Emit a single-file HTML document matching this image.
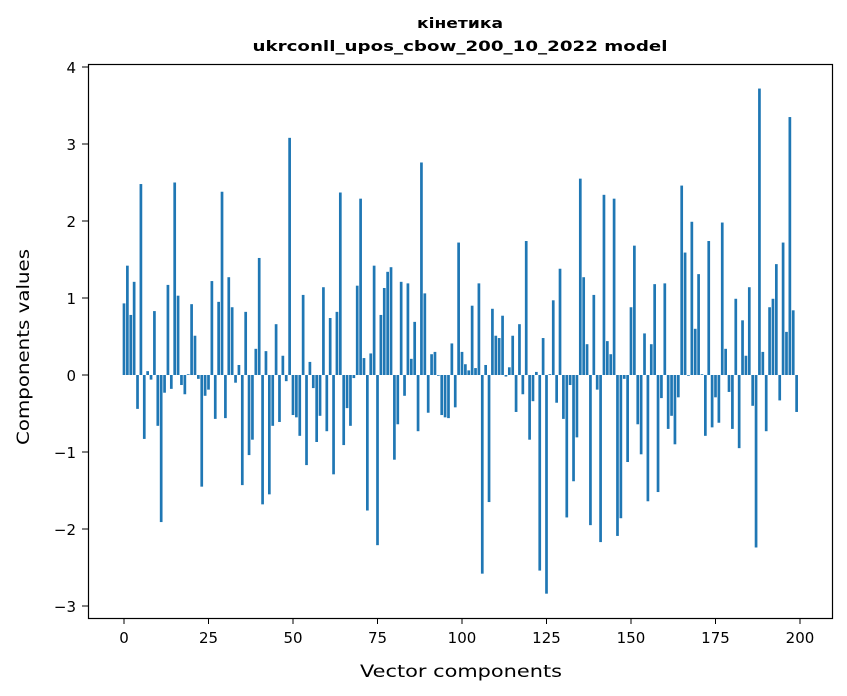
<!DOCTYPE html>
<html><head><meta charset="utf-8"><style>
html,body{margin:0;padding:0;background:#fff;}
svg{display:block;font-family:"DejaVu Sans","Liberation Sans",sans-serif;}
</style></head><body>
<svg id="chart" width="847" height="696" viewBox="0 0 847 696">
<rect width="847" height="696" fill="#fff"/>
<text x="460" y="28" text-anchor="middle" font-size="14" font-weight="bold" textLength="86" lengthAdjust="spacingAndGlyphs">кінетика</text>
<text x="460" y="51" text-anchor="middle" font-size="14" font-weight="bold" textLength="415" lengthAdjust="spacingAndGlyphs">ukrconll_upos_cbow_200_10_2022 model</text>
<g id="bars"></g>
<rect x="88.5" y="64.5" width="744" height="554" fill="none" stroke="#000" stroke-width="1.2"/>
<g id="xaxis"></g>
<g id="yaxis"></g>
<text x="461" y="677" text-anchor="middle" font-size="17" textLength="202" lengthAdjust="spacingAndGlyphs">Vector components</text>
<text transform="translate(29,347) rotate(-90)" text-anchor="middle" font-size="17" textLength="196" lengthAdjust="spacingAndGlyphs">Components values</text>
</svg>
<script>
const values = [0.93,1.42,0.78,1.21,-0.44,2.48,-0.83,0.05,-0.06,0.83,-0.66,-1.91,-0.23,1.17,-0.18,2.50,1.03,-0.13,-0.25,0.01,
0.92,0.51,-0.05,-1.45,-0.27,-0.19,1.22,-0.57,0.95,2.38,-0.56,1.27,0.88,-0.10,0.13,-1.43,0.82,-1.04,-0.84,0.34,
1.52,-1.68,0.31,-1.55,-0.66,0.66,-0.61,0.25,-0.08,3.08,-0.52,-0.55,-0.79,1.04,-1.17,0.17,-0.17,-0.87,-0.53,1.14,
-0.73,0.74,-1.29,0.82,2.37,-0.91,-0.43,-0.66,-0.04,1.16,2.29,0.22,-1.76,0.28,1.42,-2.21,0.78,1.13,1.34,1.40,
-1.10,-0.64,1.21,-0.27,1.19,0.21,0.69,-0.73,2.76,1.06,-0.49,0.27,0.30,-0.01,-0.52,-0.55,-0.56,0.41,-0.42,1.72,
0.30,0.14,0.06,0.90,0.09,1.19,-2.58,0.13,-1.65,0.86,0.51,0.48,0.77,-0.02,0.10,0.51,-0.48,0.66,-0.25,1.74,
-0.84,-0.34,0.04,-2.54,0.48,-2.84,0.01,0.97,-0.36,1.38,-0.57,-1.85,-0.13,-1.38,-0.81,2.55,1.27,0.40,-1.95,1.04,
-0.19,-2.17,2.34,0.44,0.27,2.29,-2.09,-1.86,-0.05,-1.13,0.88,1.68,-0.64,-1.03,0.54,-1.64,0.40,1.18,-1.52,-0.30,
1.19,-0.70,-0.53,-0.90,-0.29,2.46,1.59,-0.01,1.99,0.60,1.31,0.01,-0.79,1.74,-0.68,-0.29,-0.62,1.98,0.34,-0.22,
-0.70,0.99,-0.95,0.71,0.25,1.14,-0.40,-2.24,3.72,0.30,-0.73,0.88,0.99,1.44,-0.33,1.72,0.56,3.35,0.84,-0.48];
const xTicks = [0,25,50,75,100,125,150,175,200];
const yTicks = [-3,-2,-1,0,1,2,3,4];
const NS = "http://www.w3.org/2000/svg";
function xs(v){return 124 + v*3.38;}
function ys(v){return 375 - v*77;}
const bars = document.getElementById('bars');
values.forEach((v,i)=>{
  const r = document.createElementNS(NS,'rect');
  const y0 = ys(0), y1 = ys(v);
  r.setAttribute('x', xs(i-0.4));
  r.setAttribute('width', 3.38*0.8);
  r.setAttribute('y', Math.min(y0,y1));
  r.setAttribute('height', Math.abs(y1-y0));
  r.setAttribute('fill', '#1f77b4');
  
  
  bars.appendChild(r);
});
const xa = document.getElementById('xaxis');
xTicks.forEach(t=>{
  const l = document.createElementNS(NS,'line');
  l.setAttribute('x1', xs(t)); l.setAttribute('x2', xs(t));
  l.setAttribute('y1', 618); l.setAttribute('y2', 624);
  l.setAttribute('stroke', '#000');
  
  
  xa.appendChild(l);
  const tx = document.createElementNS(NS,'text');
  tx.setAttribute('x', xs(t)); tx.setAttribute('y', 643);
  tx.setAttribute('text-anchor', 'middle'); tx.setAttribute('font-size', '15');
  tx.textContent = t;
  
  
  xa.appendChild(tx);
});
const ya = document.getElementById('yaxis');
yTicks.forEach(t=>{
  const l = document.createElementNS(NS,'line');
  l.setAttribute('x1', 82); l.setAttribute('x2', 88);
  l.setAttribute('y1', ys(t)); l.setAttribute('y2', ys(t));
  l.setAttribute('stroke', '#000');
  
  
  ya.appendChild(l);
  const tx = document.createElementNS(NS,'text');
  tx.setAttribute('x', 76); tx.setAttribute('y', ys(t)+6);
  tx.setAttribute('text-anchor', 'end'); tx.setAttribute('font-size', '15');
  tx.textContent = t < 0 ? '\u2212' + Math.abs(t) : String(t);
  
  
  ya.appendChild(tx);
});
</script>
</body></html>
